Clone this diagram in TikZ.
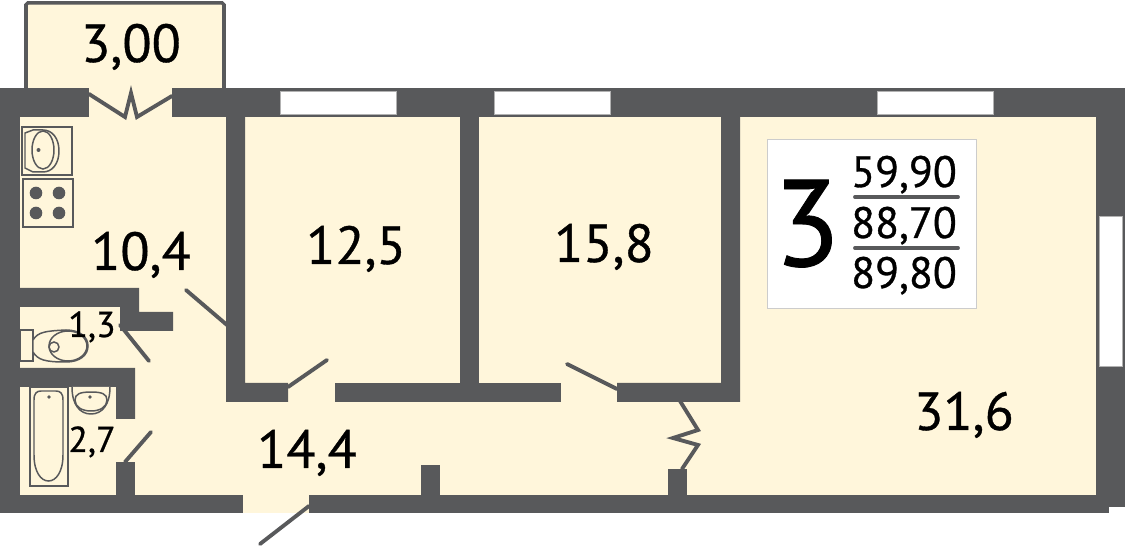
\documentclass[tikz,border=0pt]{standalone}
\usepackage{fontspec}
\setmainfont{PT Sans}[RawFeature={embolden=0.7}]
\definecolor{wallgray}{HTML}{58595B}
\definecolor{floorcream}{HTML}{FFF6DB}
\tikzset{
  wall/.style={fill=wallgray, draw=none},
  win/.style={fill=white, draw=black!30, line width=0.4pt},
  door/.style={draw=wallgray, line width=2.2pt, line cap=round, line join=miter},
  fixture/.style={draw=wallgray, line width=0.85pt, fill=floorcream},
  bigroom/.style={font=\fontsize{30.5}{31}\selectfont, anchor=base, inner sep=0pt},
  smallroom/.style={font=\fontsize{20.5}{21}\selectfont, anchor=base, inner sep=0pt},
  areanum/.style={font=\fontsize{25}{25}\selectfont, anchor=base, inner sep=0pt}
}
\begin{document}
\begin{tikzpicture}[x=0.02cm, y=-0.02cm]
\useasboundingbox (0,0) rectangle (1125,546);

% floor and balcony
\fill[floorcream] (20,88) rectangle (1096,513);
\draw[fill=floorcream, draw=wallgray, line width=2pt, rounded corners=1pt] (26,90) -- (26,3) -- (224,3) -- (224,90);

% outer walls
\fill[wall] (0,88) rectangle (89,117);
\fill[wall] (172,88) rectangle (1125,117);
\fill[wall] (0,88) rectangle (20,513);
\fill[wall] (1096,88) rectangle (1125,507);
\fill[wall] (0,495) rectangle (243,513);
\fill[wall] (309,495) rectangle (1109,513);

% inner walls
\fill[wall] (226,117) -- (245,117) -- (245,383) -- (288,383) -- (288,402) -- (226,402) -- cycle;
\fill[wall] (460,117) rectangle (479,383);
\fill[wall] (335,383) rectangle (561,402);
\fill[wall] (721,117) -- (740,117) -- (740,402) -- (617,402) -- (617,383) -- (721,383) -- cycle;
\fill[wall] (20,288) -- (139,288) -- (139,312) -- (173,312) -- (173,331) -- (120,331) -- (120,307) -- (20,307) -- cycle;
\fill[wall] (20,368) -- (135,368) -- (135,419) -- (116,419) -- (116,387) -- (20,387) -- cycle;
\fill[wall] (116,462) rectangle (135,495);
\fill[wall] (421,465) rectangle (440,495);
\fill[wall] (668,469) rectangle (687,495);

% windows
\foreach \wx in {280,494,877}
  \draw[win] (\wx,91) rectangle ++(116,23);
\draw[win] (1099,216) rectangle (1122,366);

% doors
\draw[door] (89,94) -- (125,117) -- (131,93) -- (137,117) -- (172,96);
\draw[door] (186,290) -- (227,325);
\draw[door] (120,325) -- (149,361);
\draw[door] (288,387) -- (327,360);
\draw[door] (125,462) -- (151,432);
\draw[door] (309,506) -- (260,544);
\draw[door] (617,389) -- (567,364);
\draw[door] (680,401) -- (698,430) -- (673,438) -- (698,445) -- (682,469);

% kitchen
\draw[fixture] (22,127) rectangle (72,175);
\draw[fixture] (25,133) -- (33,130) -- (43,130) .. controls (52,130) and (59,138) .. (59,151) .. controls (59,164) and (52,172) .. (43,172) -- (33,172) -- (25,168) -- cycle;
\draw[fixture] (43,150) ellipse (11 and 19);
\fill[wallgray] (38.5,150) circle (2);
\draw[fixture] (23,179) rectangle (73,227);
\foreach \bx in {36,59}
  \foreach \by in {193,213}
    \fill[wallgray] (\bx,\by) circle (6.3);

% toilet
\draw[fixture] (20,330) rectangle (33,361);
\draw[fixture] (33,340) .. controls (38,332) and (45,331) .. (66,330) .. controls (80,330) and (88,337) .. (88,346) .. controls (88,355) and (80,362) .. (66,362) .. controls (45,362) and (38,360) .. (33,352) -- cycle;
\draw[fixture] (68,346) ellipse (19 and 15);
\draw[fixture] (54,347) circle (5);

% bath and basin
\draw[fixture] (30,387) rectangle (68,486);
\draw[fixture] (34,400) .. controls (34,393) and (37,391) .. (41,391) -- (56,391) .. controls (60,391) and (63,393) .. (63,400) -- (63,455) .. controls (63,472) and (56,481) .. (48.5,481) .. controls (41,481) and (34,472) .. (34,455) -- cycle;
\fill[wallgray] (49,397) circle (1.8);
\draw[fixture] (72,387) .. controls (72,405) and (80,414) .. (91,414) .. controls (102,414) and (110,405) .. (110,387);
\draw[fixture] (75,400) .. controls (75,394) and (80,392) .. (91,392) .. controls (102,392) and (107,394) .. (107,400) .. controls (107,407) and (100,411) .. (91,411) .. controls (82,411) and (75,407) .. (75,400) -- cycle;
\fill[wallgray] (90,397) circle (1.8);

% room areas
\node[bigroom] (balcony) at (131,62) {3,00};
\node[bigroom] (kitchen) at (141,270) {10,4};
\node[bigroom] (roomA) at (356,264) {12,5};
\node[bigroom] (roomB) at (604,262) {15,8};
\node[bigroom] (roomC) at (964,430) {31,6};
\node[bigroom] (hall) at (307,468) {14,4};
\node[smallroom] (wc) at (92,337) {1,3};
\node[smallroom] (bath) at (92,452) {2,7};

% info box
\draw[fill=white, draw=black!20, line width=0.5pt] (767,139) rectangle (976,308);
\node[font=\fontsize{70}{70}\selectfont, anchor=base, inner sep=0pt] (rooms) at (807,266) {3};
\node[areanum] (living) at (904,187) {59,90};
\node[areanum] (total) at (904,238) {88,70};
\node[areanum] (full) at (904,288) {89,80};
\draw[wallgray, line width=2.2pt, line cap=round] (855,197) -- (958,197);
\draw[wallgray, line width=2.2pt, line cap=round] (855,248) -- (958,248);

\end{tikzpicture}
\end{document}
